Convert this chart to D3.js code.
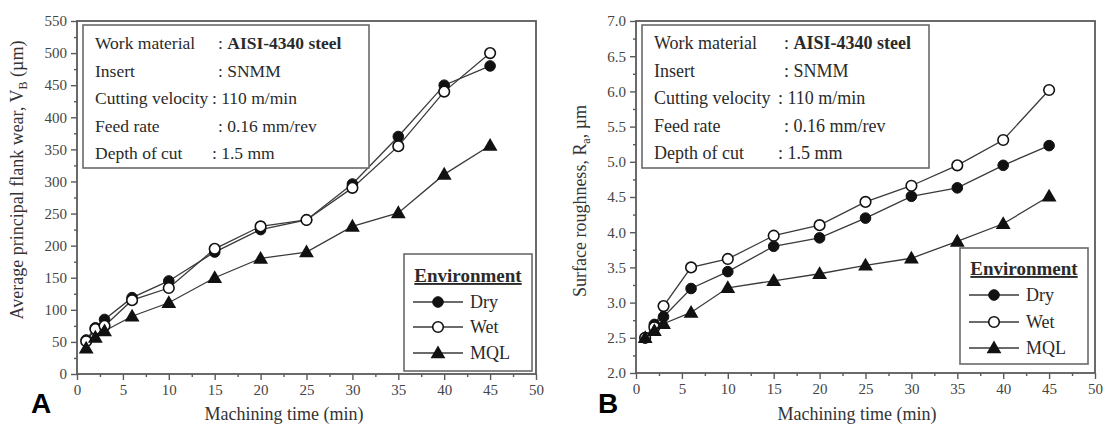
<!DOCTYPE html>
<html>
<head>
<meta charset="utf-8">
<script src="https://cdn.jsdelivr.net/npm/d3@7"></script>
<style>
  html, body { margin: 0; padding: 0; background: #fff; }
  svg { display: block; }
</style>
</head>
<body>
<svg id="chart" width="1107" height="427" font-family="Liberation Serif, Times New Roman, serif" fill="#2a2a2a"></svg>
<script>
// Machining time (min) at which measurements were taken
const machiningTime = [1, 2, 3, 6, 10, 15, 20, 25, 30, 35, 40, 45];

// Panel A: average principal flank wear VB (µm)
const wearDry = [53, 72, 85, 119, 145, 190, 225, 240, 296, 370, 450, 480];
const wearWet = [51, 70, 75, 115, 134, 195, 230, 240, 290, 355, 440, 500];
const wearMQL = [40, 57, 67, 90, 111, 150, 180, 190, 230, 251, 311, 356];

// Panel B: surface roughness Ra (µm)
const roughDry = [2.50, 2.69, 2.80, 3.20, 3.44, 3.80, 3.92, 4.20, 4.51, 4.63, 4.95, 5.23];
const roughWet = [2.50, 2.65, 2.95, 3.50, 3.62, 3.95, 4.10, 4.43, 4.66, 4.95, 5.31, 6.02];
const roughMQL = [2.50, 2.60, 2.70, 2.86, 3.21, 3.31, 3.41, 3.53, 3.63, 3.87, 4.12, 4.51];

// Axis tick labels
const xTicks = [0, 5, 10, 15, 20, 25, 30, 35, 40, 45, 50];
const yTicksWear = [0, 50, 100, 150, 200, 250, 300, 350, 400, 450, 500, 550];
const yTicksRough = [2.0, 2.5, 3.0, 3.5, 4.0, 4.5, 5.0, 5.5, 6.0, 6.5, 7.0];

// Legend entries and cutting conditions
const environments = ["Dry", "Wet", "MQL"];
const conditionLabels = ["Work material", "Insert", "Cutting velocity", "Feed rate", "Depth of cut"];
const conditionValues = [": AISI-4340 steel", ": SNMM", ": 110 m/min", ": 0.16 mm/rev", ": 1.5 mm"];

const svg = d3.select("#chart");
const axisColor = "#5a5a5a";
const lineColor = "#3a3a3a";

function drawMarker(g, type, x, y) {
  if (type === "Dry") {
    g.append("circle").attr("cx", x).attr("cy", y).attr("r", 5.3)
      .attr("fill", "#111").attr("stroke", "#111").attr("stroke-width", 1);
  } else if (type === "Wet") {
    g.append("circle").attr("cx", x).attr("cy", y).attr("r", 5.3)
      .attr("fill", "#fff").attr("stroke", "#111").attr("stroke-width", 1.6);
  } else {
    g.append("path")
      .attr("d", d3.symbol().type(d3.symbolTriangle).size(95)())
      .attr("transform", `translate(${x},${y + 1})`)
      .attr("fill", "#111");
  }
}

function drawPanel(cfg) {
  const { left, right, top, bottom } = cfg;
  const g = svg.append("g");

  const x = d3.scaleLinear().domain([0, 50]).range([left, right]);
  const y = d3.scaleLinear().domain(cfg.yDomain).range([bottom, top]);

  // plot frame
  g.append("rect")
    .attr("x", left).attr("y", top)
    .attr("width", right - left).attr("height", bottom - top)
    .attr("fill", "none").attr("stroke", axisColor).attr("stroke-width", 1.8);

  // x axis: major and minor ticks
  const xMinor = d3.range(2.5, 50, 5);
  const xAxisMinor = d3.axisBottom(x).tickValues(xMinor).tickSize(3).tickFormat("");
  const xAxis = d3.axisBottom(x).tickValues(xTicks).tickSize(6).tickPadding(4).tickFormat(d3.format("d"));
  const gxm = g.append("g").attr("transform", `translate(0,${bottom})`).call(xAxisMinor);
  const gx = g.append("g").attr("transform", `translate(0,${bottom})`).call(xAxis);

  // y axis: major and minor ticks
  const [y0, y1] = cfg.yDomain;
  const yMinor = d3.range(y0 + cfg.yStep / 2, y1, cfg.yStep);
  const yAxisMinor = d3.axisLeft(y).tickValues(yMinor).tickSize(3).tickFormat("");
  const yAxis = d3.axisLeft(y).tickValues(cfg.yTicks).tickSize(6).tickPadding(4).tickFormat(cfg.yFormat);
  const gym = g.append("g").attr("transform", `translate(${left},0)`).call(yAxisMinor);
  const gy = g.append("g").attr("transform", `translate(${left},0)`).call(yAxis);

  [gxm, gx, gym, gy].forEach(a => {
    a.select(".domain").remove();
    a.selectAll(".tick line").attr("stroke", axisColor).attr("stroke-width", 1.4);
    a.selectAll(".tick text")
      .attr("font-family", "Liberation Serif, Times New Roman, serif")
      .attr("font-size", 15).attr("fill", "#444");
  });

  // y axis title
  const yt = g.append("text")
    .attr("transform", `translate(${cfg.yTitleX},${cfg.yTitleY}) rotate(-90)`)
    .attr("text-anchor", "middle").attr("font-size", 18).attr("fill", "#333");
  yt.append("tspan").text(cfg.yTitle[0]);
  yt.append("tspan").attr("font-size", 12).attr("dy", 4).text(cfg.yTitle[1]);
  yt.append("tspan").attr("dy", -4).text(cfg.yTitle[2]);

  // x axis title
  g.append("text")
    .attr("x", cfg.xTitleX).attr("y", 420)
    .attr("text-anchor", "middle").attr("font-size", 18).attr("fill", "#333")
    .text("Machining time (min)");

  // panel letter
  g.append("text")
    .attr("x", cfg.letterX).attr("y", 413)
    .attr("font-family", "Liberation Sans, Arial, sans-serif")
    .attr("font-weight", "bold").attr("font-size", 28).attr("fill", "#000")
    .text(cfg.letter);

  // data series
  const line = d3.line().x(d => x(d[0])).y(d => y(d[1]));
  cfg.series.forEach((vals) => {
    const pts = machiningTime.map((t, k) => [t, vals[k]]);
    g.append("path").datum(pts).attr("d", line)
      .attr("fill", "none").attr("stroke", lineColor).attr("stroke-width", 1.3);
  });
  cfg.series.forEach((vals, i) => {
    machiningTime.forEach((t, k) => drawMarker(g, environments[i], x(t), y(vals[k])));
  });

  // cutting conditions box
  const ib = cfg.infoBox;
  g.append("rect").attr("x", ib.x).attr("y", ib.y).attr("width", ib.w).attr("height", ib.h)
    .attr("fill", "#fff").attr("stroke", "#6a6a6a").attr("stroke-width", 1.6);
  conditionLabels.forEach((lab, i) => {
    const by = ib.y + 24 + i * 27.5;
    g.append("text").attr("x", ib.x + 12).attr("y", by).attr("font-size", ib.fs).text(lab);
    const colonX = ib.x + ((i === 2 || i === 4) ? ib.colonB : ib.colonA);
    const t = g.append("text").attr("x", colonX).attr("y", by).attr("font-size", ib.fs);
    if (i === 0) {
      t.append("tspan").text(": ");
      t.append("tspan").attr("font-weight", "bold").text(conditionValues[0].slice(2));
    } else {
      t.text(conditionValues[i]);
    }
  });

  // legend box
  const lb = cfg.legendBox;
  g.append("rect").attr("x", lb.x).attr("y", lb.y).attr("width", lb.w).attr("height", lb.h)
    .attr("fill", "#fff").attr("stroke", "#6a6a6a").attr("stroke-width", 1.6);
  g.append("text").attr("x", lb.x + lb.w / 2).attr("y", lb.titleY)
    .attr("text-anchor", "middle").attr("font-size", 19).attr("font-weight", "bold")
    .attr("text-decoration", "underline").text("Environment");
  environments.forEach((name, i) => {
    const ly = lb.rows[i];
    g.append("line").attr("x1", lb.x + 9).attr("x2", lb.x + 59).attr("y1", ly).attr("y2", ly)
      .attr("stroke", lineColor).attr("stroke-width", 1.3);
    drawMarker(g, name, lb.x + 34, ly);
    g.append("text").attr("x", lb.x + 66).attr("y", ly + 6).attr("font-size", 18).text(name);
  });
}

drawPanel({
  left: 77, right: 536, top: 21, bottom: 374,
  yDomain: [0, 550], yStep: 50, yTicks: yTicksWear, yFormat: d3.format("d"),
  yTitle: ["Average principal flank wear, V", "B", " (\u00b5m)"], yTitleX: 23, yTitleY: 180,
  xTitleX: 284,
  letter: "A", letterX: 31,
  series: [wearDry, wearWet, wearMQL],
  infoBox: { x: 83, y: 25, w: 286, h: 143, fs: 17.5, colonA: 135, colonB: 129 },
  legendBox: { x: 404, y: 254, w: 128, h: 117, titleY: 282, rows: [302, 327, 353] }
});

drawPanel({
  left: 636, right: 1095, top: 21, bottom: 373,
  yDomain: [2.0, 7.0], yStep: 0.5, yTicks: yTicksRough, yFormat: d3.format(".1f"),
  yTitle: ["Surface roughness, R", "a", ", \u00b5m"], yTitleX: 586, yTitleY: 201,
  xTitleX: 857,
  letter: "B", letterX: 598,
  series: [roughDry, roughWet, roughMQL],
  infoBox: { x: 642, y: 25, w: 287, h: 143, fs: 18, colonA: 142, colonB: 136 },
  legendBox: { x: 960, y: 248, w: 128, h: 116, titleY: 275, rows: [295, 322, 348] }
});
</script>
</body>
</html>
